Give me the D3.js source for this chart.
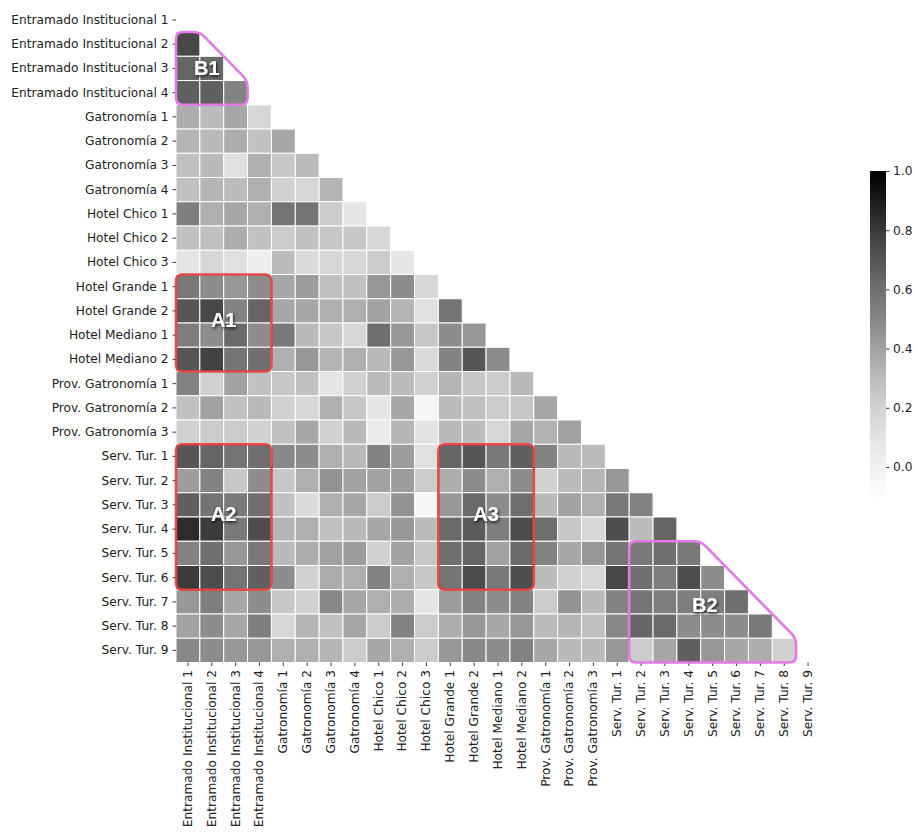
<!DOCTYPE html>
<html>
<head>
<meta charset="utf-8">
<script src="https://cdn.jsdelivr.net/npm/d3@7"></script>
<style>
  body { margin: 0; background: #ffffff; }
  svg { display: block; }
  .axis text { font-family: "DejaVu Sans", sans-serif; font-size: 12.2px; fill: #222222; }
  .axis line { stroke: #222222; stroke-width: 0.9; }
</style>
</head>
<body>
<svg id="chart" width="916" height="832"></svg>
<script>
// Variables of the correlation matrix (rows and columns share the same order)
const labels = [
  "Entramado Institucional 1", "Entramado Institucional 2", "Entramado Institucional 3", "Entramado Institucional 4",
  "Gatronomía 1", "Gatronomía 2", "Gatronomía 3", "Gatronomía 4",
  "Hotel Chico 1", "Hotel Chico 2", "Hotel Chico 3",
  "Hotel Grande 1", "Hotel Grande 2", "Hotel Mediano 1", "Hotel Mediano 2",
  "Prov. Gatronomía 1", "Prov. Gatronomía 2", "Prov. Gatronomía 3",
  "Serv. Tur. 1", "Serv. Tur. 2", "Serv. Tur. 3", "Serv. Tur. 4", "Serv. Tur. 5",
  "Serv. Tur. 6", "Serv. Tur. 7", "Serv. Tur. 8", "Serv. Tur. 9"
];

// Lower triangle (diagonal excluded): corrRows[i] holds row labels[i + 1] against columns labels[0..i]
const corrRows = [
  [0.75],
  [0.64, 0.62],
  [0.66, 0.66, 0.52],
  [0.36, 0.30, 0.38, 0.17],
  [0.33, 0.31, 0.36, 0.28, 0.38],
  [0.28, 0.31, 0.12, 0.35, 0.25, 0.30],
  [0.28, 0.33, 0.30, 0.35, 0.20, 0.17, 0.33],
  [0.54, 0.35, 0.38, 0.35, 0.58, 0.58, 0.23, 0.08],
  [0.28, 0.28, 0.36, 0.28, 0.23, 0.28, 0.25, 0.25, 0.17],
  [0.09, 0.17, 0.12, 0.03, 0.30, 0.15, 0.17, 0.17, 0.23, 0.08],
  [0.56, 0.48, 0.44, 0.48, 0.38, 0.42, 0.28, 0.28, 0.44, 0.48, 0.17],
  [0.70, 0.75, 0.52, 0.64, 0.38, 0.38, 0.35, 0.35, 0.40, 0.33, 0.12, 0.58],
  [0.54, 0.48, 0.62, 0.48, 0.56, 0.31, 0.25, 0.17, 0.60, 0.44, 0.25, 0.48, 0.44],
  [0.70, 0.77, 0.58, 0.60, 0.35, 0.44, 0.33, 0.35, 0.31, 0.44, 0.15, 0.52, 0.70, 0.48],
  [0.52, 0.20, 0.40, 0.28, 0.25, 0.28, 0.08, 0.20, 0.30, 0.30, 0.20, 0.33, 0.25, 0.23, 0.31],
  [0.28, 0.40, 0.28, 0.31, 0.20, 0.17, 0.35, 0.25, 0.08, 0.38, -0.03, 0.30, 0.28, 0.23, 0.25, 0.38],
  [0.20, 0.23, 0.23, 0.20, 0.28, 0.38, 0.20, 0.31, 0.05, 0.33, 0.10, 0.31, 0.30, 0.17, 0.38, 0.34, 0.40],
  [0.70, 0.64, 0.58, 0.60, 0.50, 0.48, 0.35, 0.31, 0.52, 0.42, 0.12, 0.64, 0.70, 0.56, 0.66, 0.52, 0.31, 0.30],
  [0.42, 0.52, 0.25, 0.48, 0.25, 0.35, 0.46, 0.40, 0.40, 0.42, 0.23, 0.36, 0.48, 0.35, 0.48, 0.20, 0.30, 0.33, 0.44],
  [0.66, 0.58, 0.56, 0.60, 0.28, 0.15, 0.35, 0.38, 0.23, 0.46, -0.04, 0.44, 0.62, 0.48, 0.60, 0.31, 0.40, 0.35, 0.56, 0.52],
  [0.84, 0.79, 0.56, 0.73, 0.33, 0.35, 0.28, 0.31, 0.38, 0.44, 0.30, 0.62, 0.68, 0.54, 0.74, 0.60, 0.25, 0.17, 0.73, 0.30, 0.64],
  [0.52, 0.60, 0.44, 0.56, 0.31, 0.36, 0.40, 0.42, 0.20, 0.40, 0.25, 0.60, 0.64, 0.40, 0.62, 0.52, 0.38, 0.44, 0.58, 0.56, 0.60, 0.56],
  [0.79, 0.73, 0.58, 0.66, 0.48, 0.20, 0.36, 0.35, 0.52, 0.35, 0.25, 0.58, 0.74, 0.56, 0.73, 0.30, 0.20, 0.17, 0.75, 0.60, 0.54, 0.73, 0.48],
  [0.44, 0.54, 0.38, 0.48, 0.25, 0.20, 0.50, 0.38, 0.35, 0.36, 0.08, 0.42, 0.52, 0.48, 0.52, 0.23, 0.46, 0.31, 0.52, 0.58, 0.54, 0.54, 0.54, 0.60],
  [0.40, 0.48, 0.38, 0.54, 0.17, 0.33, 0.28, 0.38, 0.23, 0.52, 0.23, 0.36, 0.44, 0.38, 0.44, 0.30, 0.33, 0.28, 0.50, 0.64, 0.62, 0.48, 0.48, 0.48, 0.56],
  [0.50, 0.48, 0.44, 0.44, 0.35, 0.35, 0.33, 0.23, 0.38, 0.35, 0.23, 0.44, 0.50, 0.48, 0.52, 0.38, 0.31, 0.31, 0.44, 0.23, 0.38, 0.66, 0.44, 0.38, 0.36, 0.20]
];

// Colour range of the scale and its tick values
const colorDomain = [-0.115, 1.0];
const colorbarTicks = [0.0, 0.2, 0.4, 0.6, 0.8, 1.0];

// Blocks between groups (rectangles)
const crossBlocks = [
  { name: "A1", rowFrom: "Hotel Grande 1", rowTo: "Hotel Mediano 2", colFrom: "Entramado Institucional 1", colTo: "Entramado Institucional 4" },
  { name: "A2", rowFrom: "Serv. Tur. 1", rowTo: "Serv. Tur. 6", colFrom: "Entramado Institucional 1", colTo: "Entramado Institucional 4" },
  { name: "A3", rowFrom: "Serv. Tur. 1", rowTo: "Serv. Tur. 6", colFrom: "Hotel Grande 1", colTo: "Hotel Mediano 2" }
];
// Blocks inside one group (triangular staircase)
const withinBlocks = [
  { name: "B1", rowFrom: "Entramado Institucional 2", rowTo: "Entramado Institucional 4", colFrom: "Entramado Institucional 1" },
  { name: "B2", rowFrom: "Serv. Tur. 5", rowTo: "Serv. Tur. 9", colFrom: "Serv. Tur. 2" }
];

const svg = d3.select("#chart");

const x = d3.scaleBand().domain(labels).range([176, 820]).paddingInner(0).paddingOuter(0);
const y = d3.scaleBand().domain(labels).range([7.8, 662.5]).paddingInner(0).paddingOuter(0);
const color = d3.scaleSequential(d3.interpolateGreys).domain(colorDomain);

// Cells
const cells = [];
corrRows.forEach((row, i) => {
  row.forEach((v, j) => cells.push({ row: labels[i + 1], col: labels[j], v }));
});

svg.append("g")
  .selectAll("rect")
  .data(cells)
  .join("rect")
  .attr("x", d => x(d.col))
  .attr("y", d => y(d.row))
  .attr("width", x.bandwidth())
  .attr("height", y.bandwidth())
  .attr("fill", d => color(d.v))
  .attr("stroke", "#ffffff")
  .attr("stroke-width", 1);

// Axes
const yAxis = svg.append("g")
  .attr("class", "axis")
  .attr("transform", `translate(${x.range()[0]},0)`)
  .call(d3.axisLeft(y).tickSize(3.5).tickPadding(4));
yAxis.select(".domain").remove();

const xAxis = svg.append("g")
  .attr("class", "axis")
  .attr("transform", `translate(0,${y.range()[1]})`)
  .call(d3.axisBottom(x).tickSize(3.5).tickPadding(3.5));
xAxis.select(".domain").remove();
xAxis.selectAll("text")
  .attr("transform", "rotate(-90)")
  .attr("x", -7.5)
  .attr("y", 0)
  .attr("dy", "0.32em")
  .attr("text-anchor", "end");

// Colour bar
const cbTop = 171, cbBottom = 501, cbX = 870, cbW = 16;
const cbScale = d3.scaleLinear().domain(colorDomain).range([cbBottom, cbTop]);
const defs = svg.append("defs");
const grad = defs.append("linearGradient")
  .attr("id", "cbGrad")
  .attr("x1", 0).attr("y1", 1).attr("x2", 0).attr("y2", 0);
d3.range(0, 1.0001, 0.05).forEach(t => {
  grad.append("stop")
    .attr("offset", t)
    .attr("stop-color", d3.interpolateGreys(t));
});
svg.append("rect")
  .attr("x", cbX).attr("y", cbTop)
  .attr("width", cbW).attr("height", cbBottom - cbTop)
  .attr("fill", "url(#cbGrad)");
const cbAxis = svg.append("g")
  .attr("class", "axis")
  .attr("transform", `translate(${cbX + cbW},0)`)
  .call(d3.axisRight(cbScale).tickValues(colorbarTicks).tickFormat(d3.format(".1f")).tickSize(3.5).tickPadding(3.5));
cbAxis.select(".domain").remove();

// Label shadow
const shadow = defs.append("filter").attr("id", "labelShadow")
  .attr("x", "-50%").attr("y", "-50%").attr("width", "200%").attr("height", "200%");
shadow.append("feDropShadow")
  .attr("dx", 1).attr("dy", 1.5).attr("stdDeviation", 1.6)
  .attr("flood-color", "#000").attr("flood-opacity", 0.85);

function roundedPath(pts, r) {
  const n = pts.length;
  const p = d3.path();
  for (let i = 0; i < n; i++) {
    const p0 = pts[(i - 1 + n) % n], p1 = pts[i], p2 = pts[(i + 1) % n];
    const v1 = [p0[0] - p1[0], p0[1] - p1[1]], v2 = [p2[0] - p1[0], p2[1] - p1[1]];
    const l1 = Math.hypot(v1[0], v1[1]), l2 = Math.hypot(v2[0], v2[1]);
    const rr = Math.min(r, l1 / 2, l2 / 2);
    const a = [p1[0] + v1[0] / l1 * rr, p1[1] + v1[1] / l1 * rr];
    const b = [p1[0] + v2[0] / l2 * rr, p1[1] + v2[1] / l2 * rr];
    if (i === 0) p.moveTo(a[0], a[1]); else p.lineTo(a[0], a[1]);
    p.quadraticCurveTo(p1[0], p1[1], b[0], b[1]);
  }
  p.closePath();
  return p.toString();
}

const labelFont = "'Liberation Sans', Arial, sans-serif";

// A blocks
crossBlocks.forEach(b => {
  const x0 = x(b.colFrom), x1 = x(b.colTo) + x.bandwidth();
  const y0 = y(b.rowFrom), y1 = y(b.rowTo) + y.bandwidth();
  svg.append("rect")
    .attr("x", x0).attr("y", y0)
    .attr("width", x1 - x0).attr("height", y1 - y0)
    .attr("rx", 6).attr("ry", 6)
    .attr("fill", "none")
    .attr("stroke", "#e8383c")
    .attr("stroke-opacity", 0.9)
    .attr("stroke-width", 2.6);
  svg.append("text")
    .attr("x", (x0 + x1) / 2)
    .attr("y", (y0 + y1) / 2 - 3)
    .attr("text-anchor", "middle")
    .attr("dominant-baseline", "central")
    .attr("font-family", labelFont)
    .attr("font-weight", "bold")
    .attr("font-size", 20)
    .attr("fill", "#ffffff")
    .attr("filter", "url(#labelShadow)")
    .text(b.name);
});

// B blocks
const labelOffsets = { B1: [-5, 0], B2: [4, 3] };
withinBlocks.forEach(b => {
  const i0 = labels.indexOf(b.rowFrom), i1 = labels.indexOf(b.rowTo);
  const left = x(b.colFrom);
  const bottom = y(b.rowTo) + y.bandwidth();
  const pts = [
    [left, y(b.rowFrom)],
    [x(labels[i0]), y(b.rowFrom)],
    [x(labels[i1]), y(b.rowTo)],
    [x(labels[i1]), bottom],
    [left, bottom]
  ];
  svg.append("path")
    .attr("d", roundedPath(pts, 7))
    .attr("fill", "none")
    .attr("stroke", "#e47ae4")
    .attr("stroke-width", 2.6);
  const mid = labels[Math.round((i0 + i1) / 2)];
  const colIdx = labels.indexOf(b.colFrom) + Math.floor((i0 + i1) / 2 - labels.indexOf(b.colFrom)) / 2;
  const off = labelOffsets[b.name];
  const cx = x.range()[0] + (colIdx + 0.5) * x.step();
  svg.append("text")
    .attr("x", cx + off[0])
    .attr("y", y(mid) + y.bandwidth() / 2 + off[1])
    .attr("text-anchor", "middle")
    .attr("dominant-baseline", "central")
    .attr("font-family", labelFont)
    .attr("font-weight", "bold")
    .attr("font-size", 20)
    .attr("fill", "#ffffff")
    .attr("filter", "url(#labelShadow)")
    .text(b.name);
});
</script>
</body>
</html>
